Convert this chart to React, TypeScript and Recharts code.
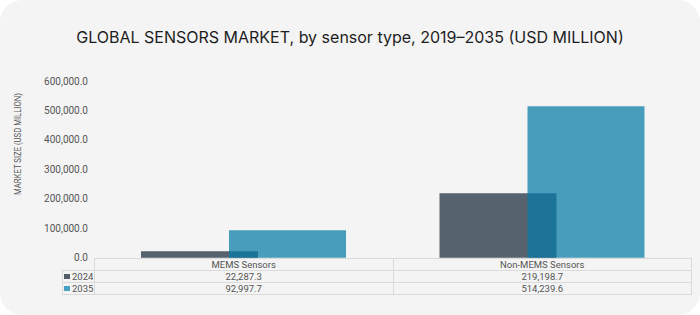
import React from "react";
import { BarChart, Bar, XAxis, YAxis } from "recharts";

// Sensor categories and market size (USD million) per year
const categories = ["MEMS Sensors", "Non-MEMS Sensors"];
const values2024 = [22287.3, 219198.7];
const values2035 = [92997.7, 514239.6];
const yTicks = [0, 100000, 200000, 300000, 400000, 500000, 600000];

const series = [
  { key: "y2024", label: "2024", values: values2024, swatch: "#515c68" },
  { key: "y2035", label: "2035", values: values2035, swatch: "#4aa0c4" },
];

const data = categories.map((name, i) => ({
  name,
  y2024: values2024[i],
  y2035: values2035[i],
}));

const W = 700;
const H = 315;
const PLOT_LEFT = 94;
const PLOT_RIGHT = 691;
const PLOT_TOP = 81;
const PLOT_BOTTOM = 257.7;
const ROW_H = 12;

const fmt = (v: number) =>
  v.toLocaleString("en-US", { minimumFractionDigits: 1, maximumFractionDigits: 1 });

const FONT = "Roboto, 'Liberation Sans', sans-serif";
const BORDER = "1px solid #dadada";

function DataTable() {
  const colW = (PLOT_RIGHT - PLOT_LEFT) / categories.length;
  const cell: React.CSSProperties = {
    position: "absolute",
    boxSizing: "border-box",
    height: ROW_H + 1,
    lineHeight: `${ROW_H}px`,
    fontSize: 9.5,
    color: "#555",
    textAlign: "center",
    fontFamily: FONT,
    border: BORDER,
    whiteSpace: "nowrap",
  };
  const items: React.ReactNode[] = [];
  categories.forEach((c, i) => {
    items.push(
      <div
        key={`h${i}`}
        style={{ ...cell, left: PLOT_LEFT + i * colW, top: PLOT_BOTTOM, width: colW + 1 }}
      >
        {c}
      </div>
    );
  });
  series.forEach((s, r) => {
    const top = PLOT_BOTTOM + (r + 1) * ROW_H;
    items.push(
      <div
        key={`l${r}`}
        style={{ ...cell, left: 62, top, width: PLOT_LEFT - 62 + 1, textAlign: "left", paddingLeft: 1 }}
      >
        <span
          style={{
            display: "inline-block",
            width: 6,
            height: 5,
            background: s.swatch,
            marginRight: 2,
            verticalAlign: "middle",
            position: "relative",
            top: -1,
          }}
        />
        {s.label}
      </div>
    );
    s.values.forEach((v, i) => {
      items.push(
        <div
          key={`c${r}-${i}`}
          style={{ ...cell, left: PLOT_LEFT + i * colW, top, width: colW + 1 }}
        >
          {fmt(v)}
        </div>
      );
    });
  });
  return <>{items}</>;
}

export default function App() {
  return (
    <div style={{ position: "absolute", left: 0, top: 0, width: W, height: H, background: "#ffffff" }}>
      <div
        style={{
          position: "absolute",
          left: 0,
          top: 0,
          width: W,
          height: H,
          background: "#f4f4f4",
          borderRadius: 22,
        }}
      />
      <div
        style={{
          position: "absolute",
          left: 0,
          top: 26,
          width: W,
          textAlign: "center",
          fontFamily: "Inter, 'Noto Sans', sans-serif",
          fontSize: 16,
          color: "#1e1e1e",
          lineHeight: "22px",
        }}
      >
        GLOBAL SENSORS MARKET, by sensor type, 2019–2035 (USD MILLION)
      </div>
      <svg style={{ position: "absolute", left: 0, top: 0 }} width={40} height={H}>
        <text
          x={0}
          y={0}
          transform="translate(21,144) rotate(-90)"
          textAnchor="middle"
          fontFamily={FONT}
          fontSize={9}
          fill="#555"
          textLength={102}
          lengthAdjust="spacingAndGlyphs"
        >
          MARKET SIZE (USD MILLION)
        </text>
      </svg>
      <div style={{ position: "absolute", left: 0, top: 0 }}>
        <BarChart
          width={W}
          height={H}
          data={data}
          barSize={117}
          barGap={-29}
          margin={{ top: PLOT_TOP, right: W - PLOT_RIGHT, bottom: H - PLOT_BOTTOM, left: PLOT_LEFT - 60 }}
        >
          <XAxis dataKey="name" hide />
          <YAxis
            width={60}
            domain={[0, 600000]}
            ticks={yTicks}
            interval={0}
            tickFormatter={fmt}
            axisLine={false}
            tickLine={false}
            tickSize={4}
            tick={{ fontSize: 10, fill: "#555", fontFamily: FONT }}
          />
          <Bar dataKey="y2024" fill="#56636f" isAnimationActive={false} />
          <Bar dataKey="y2035" fill="#057ca7" fillOpacity={0.72} isAnimationActive={false} />
        </BarChart>
      </div>
      <DataTable />
    </div>
  );
}
